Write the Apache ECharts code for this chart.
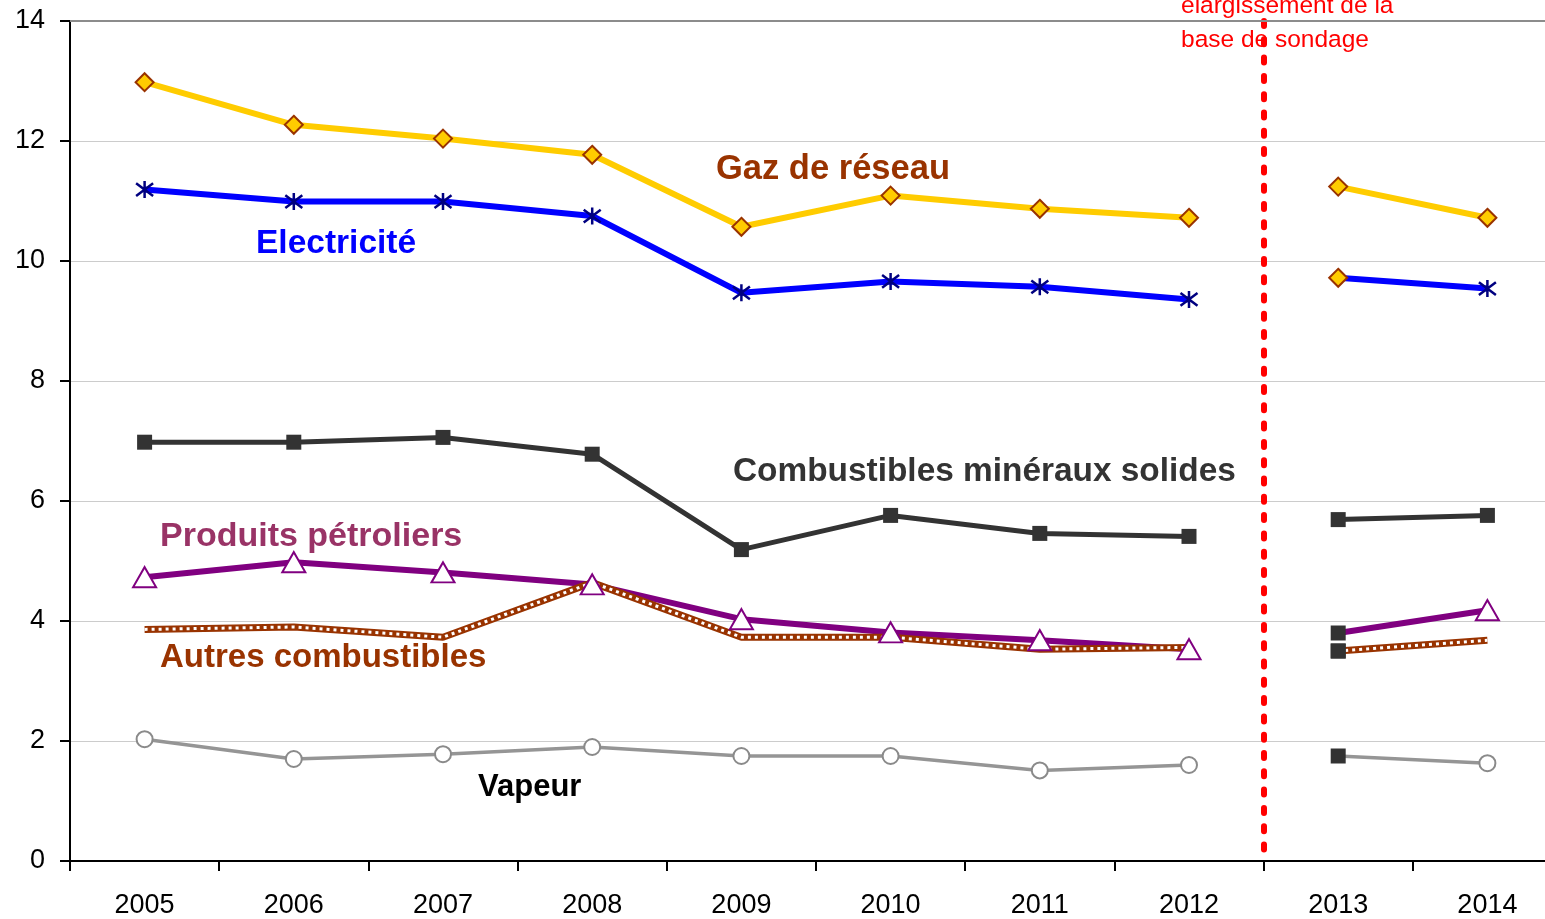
<!DOCTYPE html>
<html>
<head>
<meta charset="utf-8">
<script src="https://cdn.jsdelivr.net/npm/echarts@6/dist/echarts.min.js"></script>
<style>
html,body{margin:0;padding:0;background:#fff;overflow:hidden;width:1545px;height:919px;}
#chart{width:1562px;height:919px;}
</style>
</head>
<body>
<div id="chart"></div>
<script>
// ---- data ----
const years = ['2005','2006','2007','2008','2009','2010','2011','2012','2013','2014'];
const gaz = [12.98, 12.27, 12.04, 11.77, 10.57, 11.09, 10.87, 10.72, 11.24, 10.72];
const electricite = [11.19, 10.99, 10.99, 10.75, 9.47, 9.66, 9.57, 9.36, 9.72, 9.54];
const combustiblesMineraux = [6.98, 6.98, 7.06, 6.78, 5.19, 5.76, 5.46, 5.41, 5.69, 5.76];
const produitsPetroliers = [4.73, 4.98, 4.81, 4.61, 4.03, 3.81, 3.68, 3.53, 3.80, 4.18];
const autresCombustibles = [3.86, 3.90, 3.73, 4.64, 3.73, 3.73, 3.53, 3.56, 3.50, 3.68];
const vapeur = [2.03, 1.70, 1.78, 1.90, 1.75, 1.75, 1.51, 1.60, 1.75, 1.63];
const yTicks = [0, 2, 4, 6, 8, 10, 12, 14];
const breakIndex = 8; // new survey base starts at 2013
const breakNote = ['élargissement de la', 'base de sondage'];

// ---- styles ----
const FONT = '"Liberation Sans", Arial, sans-serif';
const diamondStyle = {symbol:'diamond', symbolSize:18, itemStyle:{color:'#FFCC00', borderColor:'#993300', borderWidth:2}};
const squareStyle = {symbol:'rect', symbolSize:15, itemStyle:{color:'#333333', borderColor:'#333333', borderWidth:0}};
const asterisk = 'path://M8,0L8,16M1,2L15,14M1,14L15,2';

function seg(values, part, override) {
  return values.map((v, i) => {
    const inPart = part === 0 ? i < breakIndex : i >= breakIndex;
    if (!inPart) return null;
    if (override && i === breakIndex) return Object.assign({value: v}, override);
    return v;
  });
}

const defs = [
  {name:'Gaz de réseau', values:gaz, line:{color:'#FFCC00', width:6}, symbol:'diamond', size:18,
   item:{color:'#FFCC00', borderColor:'#993300', borderWidth:2}, override:null},
  {name:'Electricité', values:electricite, line:{color:'#0000FF', width:6}, symbol:asterisk, size:17,
   item:{color:'#000080', borderColor:'#000080', borderWidth:2.5}, override:diamondStyle},
  {name:'Combustibles minéraux solides', values:combustiblesMineraux, line:{color:'#333333', width:5}, symbol:'rect', size:15,
   item:{color:'#333333', borderWidth:0}, override:null},
  {name:'Produits pétroliers', values:produitsPetroliers, line:{color:'#800080', width:6}, symbol:'triangle', size:[23,20],
   item:{color:'#ffffff', borderColor:'#800080', borderWidth:2}, override:squareStyle},
  {name:'Autres combustibles', values:autresCombustibles, line:{color:'#993300', width:7}, symbol:'none', size:15,
   item:{color:'#993300'}, override:squareStyle, overlay:true},
  {name:'Vapeur', values:vapeur, line:{color:'#959595', width:3.5}, symbol:'circle', size:16,
   item:{color:'#ffffff', borderColor:'#8a8a8a', borderWidth:2}, override:squareStyle}
];

const series = [];
defs.forEach(d => {
  [0,1].forEach(part => {
    series.push({
      name: d.name, type:'line', data: seg(d.values, part, part === 1 ? d.override : null),
      connectNulls:false, showSymbol:true, symbol:d.symbol, symbolSize:d.size,
      lineStyle: d.line, itemStyle: d.item, silent:true, z: 3
    });
    if (d.overlay) {
      series.push({
        name: d.name + ' motif', type:'line', data: seg(d.values, part, null),
        connectNulls:false, symbol:'none', silent:true, z: 3,
        lineStyle:{color:'#ffffff', width:3, type:[3,4]}
      });
      if (part === 1 && d.override) {
        series.push({
          name: d.name + ' marque', type:'line', data: seg(d.values, part, d.override).map((v,i)=> i===breakIndex ? v : null),
          symbol:'rect', symbolSize:15, lineStyle:{width:0}, itemStyle:{color:'#333333'}, silent:true, z:4
        });
      }
    }
  });
});

// helper series: break line and top border
series.push({
  type:'line', xAxisIndex:1, yAxisIndex:0, data:[], silent:true, z:5,
  markLine:{silent:true, symbol:['none','none'], label:{show:false}, animation:false,
    lineStyle:{color:'#FF0000', width:6, type:[5,13.3], cap:'round'},
    data:[[{coord:[breakIndex, yTicks[yTicks.length-1]]}, {coord:[breakIndex, 0]}]]}
});
series.push({
  type:'line', xAxisIndex:1, yAxisIndex:0, data:[], silent:true, z:2,
  markLine:{silent:true, symbol:['none','none'], label:{show:false}, animation:false,
    lineStyle:{color:'#8c8c8c', width:2, type:'solid'},
    data:[[{coord:[0, yTicks[yTicks.length-1]]}, {coord:[years.length, yTicks[yTicks.length-1]]}]]}
});

const lf = s => 'bold ' + s + 'px ' + FONT;
const graphics = [
  {type:'text', x:716, y:169, style:{text:'Gaz de réseau', fill:'#993300', font:lf(34.5), verticalAlign:'middle'}},
  {type:'text', x:256, y:244, style:{text:'Electricité', fill:'#0000FF', font:lf(33.5), verticalAlign:'middle'}},
  {type:'text', x:733, y:472, style:{text:'Combustibles minéraux solides', fill:'#333333', font:lf(33.4), verticalAlign:'middle'}},
  {type:'text', x:160, y:537, style:{text:'Produits pétroliers', fill:'#993366', font:lf(34), verticalAlign:'middle'}},
  {type:'text', x:160, y:658, style:{text:'Autres combustibles', fill:'#993300', font:lf(33), verticalAlign:'middle'}},
  {type:'text', x:478, y:787, style:{text:'Vapeur', fill:'#000000', font:lf(31), verticalAlign:'middle'}},
  {type:'text', x:1181, y:6, style:{text:breakNote[0], fill:'#FF0000', font:'24.5px ' + FONT, verticalAlign:'middle'}, z:10},
  {type:'text', x:1181, y:40, style:{text:breakNote[1], fill:'#FF0000', font:'24.5px ' + FONT, verticalAlign:'middle'}, z:10}
];

const chart = echarts.init(document.getElementById('chart'), null, {renderer:'canvas'});
chart.setOption({
  animation:false,
  backgroundColor:'#ffffff',
  grid:{left:70, right:0, top:21, bottom:57, containLabel:false},
  xAxis:[
    {type:'category', data:years, boundaryGap:true,
     axisLine:{show:true, lineStyle:{color:'#000', width:2}},
     axisTick:{show:true, length:10, interval:0, lineStyle:{color:'#000', width:2}},
     axisLabel:{fontSize:27, color:'#000', margin:31, fontFamily:FONT, interval:0},
     splitLine:{show:false}},
    {type:'value', min:0, max:years.length, show:false}
  ],
  yAxis:{type:'value', min:yTicks[0], max:yTicks[yTicks.length-1], interval:2,
    axisLine:{show:true, lineStyle:{color:'#000', width:2}},
    axisTick:{show:true, length:10, lineStyle:{color:'#000', width:2}},
    axisLabel:{fontSize:27, color:'#000', margin:25, fontFamily:FONT},
    splitLine:{show:true, lineStyle:{color:'#cccccc', width:1}}},
  series: series,
  graphic: graphics
});
</script>
</body>
</html>
